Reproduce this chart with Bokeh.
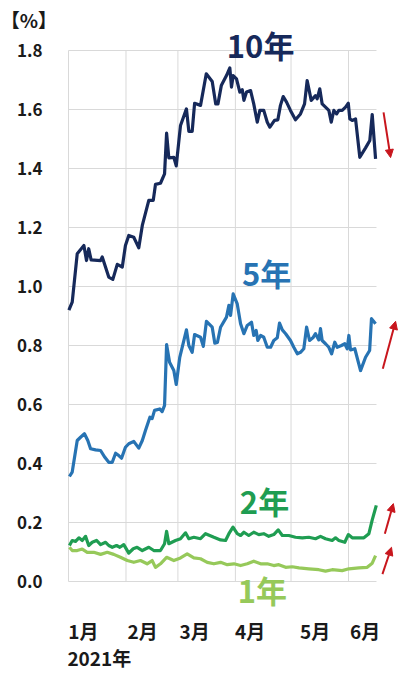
from bokeh.plotting import figure
from bokeh.models import Range1d, Arrow, NormalHead, ColumnDataSource
from bokeh.core.properties import value
from bokeh.embed import file_html
from bokeh.resources import INLINE

# ---- data (x = days since 1 Jan 2021, y = yield %) ----
y10_day = [0.2, 2.0, 4.7, 8.3, 9.7, 10.9, 12.2, 17.3, 18.2, 21.7, 23.9, 26.3, 29.0, 30.7, 32.5, 35.2,
           37.9, 39.8, 43.3, 45.7, 46.9, 49.6, 51.8, 52.9, 54.1, 56.8, 58.1, 60.4, 63.6, 64.9, 66.7,
           68.0, 71.2, 74.3, 77.5, 79.4, 80.6, 82.4, 85.2, 87.0, 87.9, 88.8, 90.6, 92.4, 93.7, 94.6,
           96.0, 98.2, 99.9, 101.8, 103.2, 105.3, 107.2, 108.6, 111.1, 112.9, 114.3, 115.8, 117.6,
           119.7, 122.4, 125.1, 127.3, 128.7, 130.9, 133.2, 134.1, 135.5, 136.8, 138.6, 140.4, 141.7,
           143.1, 144.6, 145.8, 147.6, 149.4, 150.9, 151.7, 153.0, 154.8, 157.1, 160.2, 162.5, 163.8, 165.6]
y10_val = [0.920, 0.947, 1.111, 1.139, 1.088, 1.128, 1.090, 1.088, 1.100, 1.032, 1.024, 1.075, 1.066,
           1.139, 1.173, 1.167, 1.131, 1.207, 1.292, 1.292, 1.346, 1.350, 1.382, 1.520, 1.436, 1.438,
           1.409, 1.546, 1.602, 1.526, 1.526, 1.621, 1.614, 1.721, 1.695, 1.619, 1.619, 1.681, 1.715,
           1.741, 1.676, 1.715, 1.704, 1.659, 1.667, 1.631, 1.659, 1.664, 1.619, 1.557, 1.597, 1.597,
           1.557, 1.540, 1.563, 1.565, 1.614, 1.644, 1.625, 1.597, 1.565, 1.585, 1.619, 1.698, 1.631,
           1.647, 1.636, 1.670, 1.619, 1.608, 1.597, 1.557, 1.597, 1.585, 1.597, 1.597, 1.608, 1.621,
           1.568, 1.563, 1.568, 1.438, 1.470, 1.495, 1.583, 1.433]

y5_day = [0.5, 2.0, 4.7, 6.5, 8.6, 10.4, 11.9, 14.6, 17.3, 19.6, 21.7, 23.6, 25.4, 27.1, 28.6, 30.7,
          32.5, 35.2, 37.9, 39.8, 41.5, 43.9, 45.1, 46.4, 49.2, 50.5, 51.8, 52.9, 54.5, 56.8, 58.1,
          60.0, 63.6, 64.9, 66.7, 68.0, 71.2, 72.7, 74.4, 77.5, 78.9, 80.3, 82.0, 85.2, 86.5, 87.4,
          88.8, 91.0, 92.8, 94.6, 96.4, 98.7, 99.9, 101.2, 102.1, 103.6, 105.3, 107.2, 109.0, 110.7,
          112.6, 113.8, 115.3, 117.1, 119.7, 121.5, 123.4, 125.1, 126.9, 128.4, 130.0, 131.8, 133.2,
          135.0, 135.9, 136.8, 138.6, 140.4, 141.9, 143.6, 144.9, 147.2, 149.0, 150.3, 151.2, 152.1,
          154.4, 157.5, 160.2, 162.4, 163.4, 165.6]
y5_val = [0.356, 0.371, 0.478, 0.489, 0.501, 0.478, 0.450, 0.446, 0.444, 0.421, 0.404, 0.404, 0.435,
          0.427, 0.418, 0.455, 0.467, 0.475, 0.452, 0.478, 0.512, 0.557, 0.552, 0.580, 0.585, 0.576,
          0.597, 0.803, 0.743, 0.715, 0.668, 0.760, 0.853, 0.800, 0.777, 0.837, 0.828, 0.797, 0.882,
          0.862, 0.808, 0.810, 0.862, 0.896, 0.936, 0.902, 0.975, 0.941, 0.874, 0.840, 0.868, 0.879,
          0.834, 0.851, 0.817, 0.834, 0.828, 0.794, 0.794, 0.817, 0.826, 0.876, 0.853, 0.840, 0.817,
          0.794, 0.772, 0.777, 0.789, 0.862, 0.817, 0.826, 0.840, 0.819, 0.857, 0.817, 0.806, 0.794,
          0.772, 0.811, 0.794, 0.800, 0.806, 0.789, 0.834, 0.785, 0.789, 0.715, 0.760, 0.783, 0.891,
          0.874]

y2_day = [0.5, 2.0, 3.8, 5.6, 7.4, 9.2, 10.9, 12.8, 15.1, 17.3, 20.0, 21.7, 23.6, 25.9, 27.7, 29.8,
          32.5, 34.9, 37.0, 39.8, 43.3, 46.0, 49.6, 51.8, 52.9, 54.1, 57.7, 60.4, 63.1, 64.9, 67.6,
          71.2, 73.9, 78.4, 82.0, 84.7, 86.5, 88.7, 91.0, 92.8, 94.6, 97.2, 99.9, 102.6, 105.3,
          108.0, 110.7, 113.1, 115.3, 118.8, 122.4, 126.1, 129.6, 133.2, 135.9, 138.6, 142.2, 144.0,
          145.8, 149.0, 150.9, 153.0, 156.6, 159.3, 162.0, 163.8, 166.0]
y2_val = [0.122, 0.139, 0.136, 0.148, 0.139, 0.153, 0.122, 0.133, 0.139, 0.125, 0.133, 0.122, 0.116,
          0.122, 0.116, 0.125, 0.096, 0.111, 0.116, 0.105, 0.116, 0.105, 0.105, 0.128, 0.170, 0.128,
          0.139, 0.145, 0.165, 0.145, 0.150, 0.145, 0.162, 0.150, 0.141, 0.139, 0.162, 0.184, 0.162,
          0.156, 0.167, 0.156, 0.167, 0.159, 0.162, 0.153, 0.159, 0.175, 0.156, 0.156, 0.150, 0.148,
          0.150, 0.145, 0.153, 0.145, 0.139, 0.148, 0.139, 0.133, 0.159, 0.148, 0.148, 0.148, 0.162,
          0.209, 0.258]

y1_day = [0.5, 2.0, 4.7, 7.4, 10.1, 13.6, 17.3, 20.9, 24.4, 28.0, 31.7, 35.2, 38.8, 42.4, 45.1, 46.9,
          49.6, 52.9, 56.8, 60.4, 64.0, 67.6, 71.2, 74.8, 78.4, 82.0, 85.6, 89.2, 92.8, 96.4, 99.9,
          103.6, 107.2, 110.7, 113.4, 117.1, 120.7, 124.3, 129.6, 135.0, 138.6, 142.2, 147.6, 151.2,
          156.6, 161.1, 163.8, 165.6]
y1_val = [0.116, 0.105, 0.105, 0.110, 0.099, 0.099, 0.092, 0.099, 0.092, 0.082, 0.071, 0.065, 0.071,
          0.060, 0.071, 0.048, 0.060, 0.082, 0.071, 0.080, 0.094, 0.080, 0.077, 0.065, 0.060, 0.065,
          0.057, 0.060, 0.054, 0.060, 0.069, 0.060, 0.060, 0.054, 0.057, 0.048, 0.050, 0.046, 0.043,
          0.040, 0.035, 0.040, 0.037, 0.043, 0.046, 0.048, 0.062, 0.088]

month_starts = [0, 31, 59, 90, 120, 151]
month_label_pos = [8, 40, 68, 98, 133, 160]
month_labels = ["1月", "2月", "3月", "4月", "5月", "6月"]
y_ticks = [0.0, 0.2, 0.4, 0.6, 0.8, 1.0, 1.2, 1.4, 1.6, 1.8]
y_tick_labels = ["%.1f" % t for t in y_ticks]

series_names = ["10年", "5年", "2年", "1年"]
series_colors = ["#16295a", "#2773b3", "#1f9d52", "#96c95a"]
series_label_x = [103.6, 106.8, 105.7, 104.6]
series_label_y = [1.82, 1.047, 0.275, -0.027]
# trend arrows (start day, start %, end day, end %)
arrows = [(169.9, 1.590, 173.7, 1.437),
          (169.5, 0.721, 176.4, 0.882),
          (170.6, 0.162, 175.2, 0.264),
          (169.3, 0.025, 174.2, 0.116)]

FONT = "Noto Sans CJK JP"
X_END = 166.1          # right end of the plotting area (days)
PX_PER_DAY = 1.854
PX_PER_PCT = 295.0
LEFT_PX, RIGHT_PX, BOTTOM_PX = 68, 400 - 376, 675 - 581

W, H = 400, 675
x0 = -LEFT_PX / PX_PER_DAY
x1 = X_END + RIGHT_PX / PX_PER_DAY
y0 = -BOTTOM_PX / PX_PER_PCT
y1 = y0 + H / PX_PER_PCT

p = figure(width=W, height=H, output_backend="svg", toolbar_location=None,
           x_range=Range1d(x0, x1), y_range=Range1d(y0, y1),
           x_axis_location=None, y_axis_location=None,
           min_border=0)
p.outline_line_color = None
p.background_fill_color = "white"
p.border_fill_color = "white"
p.grid.visible = False

GRID = "#d9d9d9"
# horizontal gridlines
p.segment(x0=[0] * len(y_ticks), x1=[X_END] * len(y_ticks), y0=y_ticks, y1=y_ticks,
          line_color=GRID, line_width=1)
# vertical gridlines at month starts
p.segment(x0=month_starts, x1=month_starts, y0=[0] * len(month_starts),
          y1=[max(y_ticks)] * len(month_starts), line_color=GRID, line_width=1)

xs_all = [y10_day, y5_day, y2_day, y1_day]
ys_all = [y10_val, y5_val, y2_val, y1_val]
for xs, ys, c in zip(xs_all[::-1], ys_all[::-1], series_colors[::-1]):
    p.line(xs, ys, line_color=c, line_width=3.2, line_join="round")

# y tick labels
p.text(x=[-14.0] * len(y_ticks), y=y_ticks, text=y_tick_labels,
       text_font=value(FONT), text_font_style=value("bold"), text_font_size=value("17px"),
       text_color="#1a1a1a", text_align="right", text_baseline="middle")
# month labels
p.text(x=month_label_pos, y=[-0.167] * len(month_label_pos), text=month_labels,
       text_font=value(FONT), text_font_style=value("bold"), text_font_size=value("19px"),
       text_color="#1a1a1a", text_align="center", text_baseline="middle")
# unit / year labels
p.text(x=[-36.6], y=[1.906], text=["【%】"],
       text_font=value(FONT), text_font_style=value("bold"), text_font_size=value("19px"),
       text_color="#1a1a1a", text_align="left", text_baseline="middle")
p.text(x=[-0.6], y=[-0.258], text=["2021年"],
       text_font=value(FONT), text_font_style=value("bold"), text_font_size=value("19px"),
       text_color="#1a1a1a", text_align="left", text_baseline="middle")

# series labels
src = ColumnDataSource(dict(x=series_label_x, y=series_label_y, t=series_names, c=series_colors))
p.text(x="x", y="y", text="t", text_color="c", source=src,
       text_font=value(FONT), text_font_style=value("bold"), text_font_size=value("31px"),
       text_align="center", text_baseline="middle")

# trend arrows
for (xs0, ys0, xe, ye) in arrows:
    p.add_layout(Arrow(x_start=xs0, y_start=ys0, x_end=xe, y_end=ye,
                       line_color="#c8161d", line_width=2,
                       end=NormalHead(size=8, fill_color="#c8161d", line_color="#c8161d")))

open("out.html", "w").write(file_html(p, INLINE))
